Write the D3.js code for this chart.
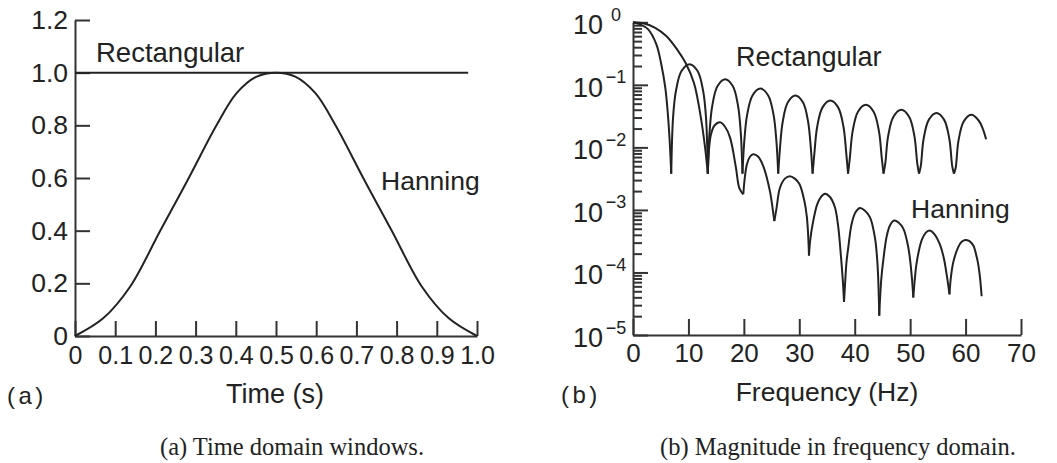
<!DOCTYPE html>
<html>
<head>
<meta charset="utf-8">
<script src="https://cdn.jsdelivr.net/npm/d3@7"></script>
<style>
  body { margin: 0; background: #fff; }
  svg text { font-family: "Liberation Sans", Arial, sans-serif; fill: #222; }
  .axis path, .axis line { stroke: #333; stroke-width: 2; }
  .curve { fill: none; stroke: #222; stroke-width: 2; }
</style>
</head>
<body>
<svg id="chart" width="1057" height="463"></svg>
<script>
// ---- panel (a): time domain windows ----
const timeTicks = [0, 0.1, 0.2, 0.3, 0.4, 0.5, 0.6, 0.7, 0.8, 0.9, 1.0];
const ampTicks = [0, 0.2, 0.4, 0.6, 0.8, 1.0, 1.2];

// [time s, amplitude]
const rectTime = [[0, 1], [0.978, 1]];
const hannTime = [
  [0, 0], [0.07, 0.067], [0.137, 0.187], [0.212, 0.40], [0.283, 0.60], [0.352, 0.80],
  [0.402, 0.922], [0.452, 0.985], [0.5, 1.0], [0.548, 0.985], [0.598, 0.922],
  [0.648, 0.80], [0.717, 0.60], [0.788, 0.40], [0.863, 0.187], [0.93, 0.067], [1.0, 0]
];

// ---- panel (b): magnitude in frequency domain ----
const freqTicks = [0, 10, 20, 30, 40, 50, 60, 70];
const decades = [0, -1, -2, -3, -4, -5];

// each lobe: [Hz, log10 |W(f)|]
const rectLobes = [
  [[0, 0], [1.2, -0.03], [2.7, -0.11], [4.2, -0.35], [5.1, -0.67], [5.83, -1.05], [6.3, -1.48], [6.65, -1.95], [6.9, -2.42]],
  [[6.9, -2.42], [7.23, -1.52], [7.76, -1.09], [8.75, -0.78], [10.2, -0.67], [11.65, -0.78], [12.64, -1.09], [13.17, -1.52], [13.5, -2.42]],
  [[13.5, -2.42], [13.81, -1.76], [14.31, -1.33], [15.25, -1.02], [16.63, -0.91], [18.0, -1.02], [18.94, -1.33], [19.44, -1.76], [19.75, -2.42]],
  [[19.75, -2.42], [20.07, -1.91], [20.59, -1.48], [21.56, -1.17], [22.98, -1.06], [24.39, -1.17], [25.36, -1.48], [25.88, -1.91], [26.2, -2.42]],
  [[26.2, -2.42], [26.51, -2.02], [27.01, -1.59], [27.94, -1.28], [29.3, -1.17], [30.66, -1.28], [31.59, -1.59], [32.09, -2.02], [32.4, -2.42]],
  [[32.4, -2.42], [32.72, -2.10], [33.23, -1.67], [34.19, -1.36], [35.6, -1.25], [37.01, -1.36], [37.97, -1.67], [38.48, -2.10], [38.8, -2.42]],
  [[38.8, -2.42], [39.12, -2.17], [39.63, -1.74], [40.59, -1.43], [42.0, -1.32], [43.41, -1.43], [44.37, -1.74], [44.88, -2.17], [45.2, -2.42]],
  [[45.2, -2.42], [45.52, -2.25], [46.03, -1.82], [46.99, -1.51], [48.4, -1.40], [49.81, -1.51], [50.77, -1.82], [51.28, -2.25], [51.6, -2.42]],
  [[51.6, -2.42], [51.92, -2.30], [52.42, -1.87], [53.36, -1.56], [54.75, -1.45], [56.14, -1.56], [57.08, -1.87], [57.59, -2.30], [57.9, -2.42]],
  [[57.9, -2.42], [58.21, -2.33], [58.71, -1.90], [59.64, -1.59], [61.0, -1.48], [62.36, -1.57], [63.1, -1.70], [63.7, -1.87]]
];

const hannLobes = [
  [[0, 0], [2.0, -0.02], [4.0, -0.09], [6.0, -0.22], [8.0, -0.44], [9.5, -0.65], [11.0, -0.97], [12.2, -1.5], [13.0, -2.0], [13.5, -2.42]],
  [[13.5, -2.42], [13.7, -2.05], [14.05, -1.8], [14.7, -1.65], [15.7, -1.60], [16.6, -1.67], [17.5, -1.84], [18.58, -2.33], [19.18, -2.65], [19.9, -2.75]],
  [[19.9, -2.75], [20.15, -2.5], [20.55, -2.27], [21.1, -2.15], [21.7, -2.11], [22.6, -2.15], [23.5, -2.30], [24.7, -2.70], [25.3, -3.05], [25.5, -3.18]],
  [[25.5, -3.18], [25.9, -2.97], [26.5, -2.65], [27.4, -2.50], [28.3, -2.46], [29.2, -2.50], [30.05, -2.59], [30.9, -2.85], [31.35, -3.1], [31.6, -3.40], [31.75, -3.73]],
  [[31.75, -3.73], [31.95, -3.5], [32.47, -3.2], [33.2, -2.92], [33.92, -2.79], [34.64, -2.74], [35.5, -2.79], [36.4, -2.95], [37.0, -3.25], [37.45, -3.67], [37.87, -4.15], [38.07, -4.47]],
  [[38.07, -4.47], [38.25, -4.2], [38.5, -3.85], [38.84, -3.6], [39.45, -3.22], [40.2, -3.03], [40.95, -2.97], [41.8, -3.01], [42.76, -3.12], [43.66, -3.45], [44.1, -3.85], [44.3, -4.25], [44.43, -4.69]],
  [[44.43, -4.69], [44.55, -4.45], [44.8, -4.1], [45.16, -3.8], [45.77, -3.42], [46.4, -3.24], [47.1, -3.17], [47.9, -3.2], [48.77, -3.3], [49.67, -3.6], [50.28, -4.05], [50.57, -4.40]],
  [[50.57, -4.40], [50.85, -4.1], [51.2, -3.83], [52.1, -3.48], [52.76, -3.37], [53.46, -3.33], [54.4, -3.39], [55.4, -3.56], [56.1, -3.78], [56.6, -4.04], [57.1, -4.35]],
  [[57.1, -4.35], [57.35, -4.08], [57.8, -3.83], [58.7, -3.59], [59.3, -3.51], [59.9, -3.48], [60.7, -3.50], [61.4, -3.57], [62.0, -3.75], [62.3, -3.88], [62.6, -4.08], [62.9, -4.38]]
];

const svg = d3.select("#chart");
svg.append("rect").attr("width", 1057).attr("height", 463).attr("fill", "#fff");

function styleAxis(g, size) {
  g.attr("font-family", null).attr("font-size", size);
  g.selectAll("text").attr("fill", "#222");
}

// ---------- (a) ----------
const xL = d3.scaleLinear().domain([0, 1]).range([75, 477]);
const yL = d3.scaleLinear().domain([0, 1.2]).range([336, 20]);
const fmtL = d => d === 0 ? "0" : d.toFixed(1);

svg.append("g").attr("class", "axis")
  .attr("transform", `translate(0,${yL(0)})`)
  .call(d3.axisBottom(xL).tickValues(timeTicks).tickSizeInner(-15).tickSizeOuter(0).tickPadding(10).tickFormat(fmtL))
  .call(g => styleAxis(g, 25));

svg.append("g").attr("class", "axis")
  .attr("transform", `translate(${xL(0)},0)`)
  .call(d3.axisLeft(yL).tickValues(ampTicks).tickSizeInner(-15).tickSizeOuter(0).tickPadding(7).tickFormat(fmtL))
  .call(g => styleAxis(g, 26.5));

const lineL = d3.line().x(d => xL(d[0])).y(d => yL(d[1]));
svg.append("path").attr("class", "curve").attr("d", lineL(rectTime));
svg.append("path").attr("class", "curve").attr("d", lineL.curve(d3.curveCatmullRom)(hannTime));

svg.append("text").attr("x", 96).attr("y", 62).attr("font-size", 27.5).text("Rectangular");
svg.append("text").attr("x", 381).attr("y", 190).attr("font-size", 26.5).text("Hanning");
svg.append("text").attr("x", 275).attr("y", 403).attr("font-size", 27)
  .attr("text-anchor", "middle").text("Time (s)");
svg.append("text").attr("x", 7).attr("y", 404).attr("font-size", 24)
  .attr("letter-spacing", 3.5).text("(a)");

// ---------- (b) ----------
const xR = d3.scaleLinear().domain([0, 70]).range([633, 1021]);
const yR = d3.scaleLog().domain([1e-5, 1]).range([335, 22.3]);
const majors = decades.map(e => Math.pow(10, e));
const minors = yR.ticks().filter(v => !majors.some(m => Math.abs(m - v) / m < 1e-6));

svg.append("g").attr("class", "axis")
  .attr("transform", `translate(0,${yR(1e-5)})`)
  .call(d3.axisBottom(xR).tickValues(freqTicks).tickSizeInner(-16).tickSizeOuter(0).tickPadding(9).tickFormat(d3.format("d")))
  .call(g => styleAxis(g, 26));

svg.append("g").attr("class", "axis")
  .attr("transform", `translate(${xR(0)},0)`)
  .call(d3.axisLeft(yR).tickValues(majors).tickSizeInner(-15).tickSizeOuter(0).tickFormat(""));

svg.append("g").attr("class", "axis")
  .attr("transform", `translate(${xR(0)},0)`)
  .call(d3.axisLeft(yR).tickValues(minors).tickSizeInner(-9).tickSizeOuter(0).tickFormat(""))
  .call(g => g.select(".domain").remove())
  .call(g => g.selectAll("line").attr("stroke-width", 1.6));

const ylab = svg.append("g");
decades.forEach(e => {
  const y = yR(Math.pow(10, e));
  ylab.append("text").attr("x", 603).attr("y", y + 12).attr("font-size", 27)
    .attr("text-anchor", "end").text("10");
  ylab.append("text").attr("x", 616).attr("y", y - 1.5).attr("font-size", 18)
    .attr("text-anchor", "middle").text(e === 0 ? "0" : "\u2212" + (-e));
});

const lineR = d3.line().x(d => xR(d[0])).y(d => yR(Math.pow(10, d[1]))).curve(d3.curveCatmullRom);
svg.append("g").selectAll("path").data(rectLobes).join("path").attr("class", "curve").attr("d", lineR);
svg.append("g").selectAll("path").data(hannLobes).join("path").attr("class", "curve").attr("d", lineR);

svg.append("text").attr("x", 736).attr("y", 66).attr("font-size", 27).text("Rectangular");
svg.append("text").attr("x", 911).attr("y", 218).attr("font-size", 26.5).text("Hanning");
svg.append("text").attr("x", 827).attr("y", 401).attr("font-size", 26.5)
  .attr("text-anchor", "middle").text("Frequency (Hz)");
svg.append("text").attr("x", 561).attr("y", 403).attr("font-size", 24)
  .attr("letter-spacing", 3.5).text("(b)");

// captions
svg.append("text").attr("x", 292).attr("y", 455).attr("font-size", 24.5).attr("text-anchor", "middle")
  .style("font-family", "'Liberation Serif', serif").text("(a) Time domain windows.");
svg.append("text").attr("x", 838).attr("y", 455).attr("font-size", 24.5).attr("text-anchor", "middle")
  .style("font-family", "'Liberation Serif', serif").text("(b) Magnitude in frequency domain.");
</script>
</body>
</html>
